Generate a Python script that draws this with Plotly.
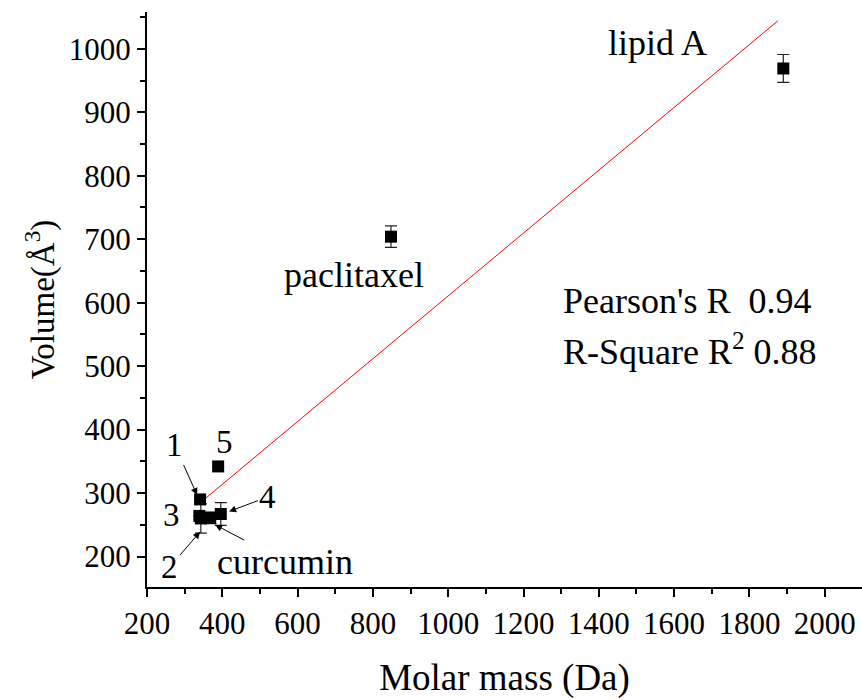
import plotly.graph_objects as go

# Molar mass (Da) vs. molecular volume (Å^3)
names = ["1", "2", "3", "curcumin", "4", "5", "paclitaxel", "lipid A"]
molar_mass = [341, 343, 339, 368, 396, 389, 848, 1890]
volume = [290, 260, 264, 261, 267, 342, 704, 969]
volume_err = [5, 23, 0, 9, 18, 0, 17, 22]

# Linear fit parameters (Origin output)
fit_slope = 0.495
fit_intercept = 115.7
fit_x = [342, 1876]
pearson_r = 0.94
r_square = 0.88

x_ticks = list(range(200, 2001, 200))
y_ticks = list(range(200, 1001, 100))

FONT = "Times New Roman, Liberation Serif, serif"

fig = go.Figure()

fit_y = [fit_slope * x + fit_intercept for x in fit_x]
fig.add_trace(go.Scatter(
    x=fit_x, y=fit_y, mode="lines",
    line=dict(color="#ff0000", width=1), hoverinfo="skip", showlegend=False,
))

fig.add_trace(go.Scatter(
    x=molar_mass, y=volume, mode="markers", hovertext=names,
    marker=dict(symbol="square", size=12, color="black", line=dict(width=0)),
    error_y=dict(type="data", array=volume_err, visible=True,
                 color="#222222", thickness=1.2, width=6),
    showlegend=False,
))

txt = dict(family=FONT, size=36, color="black")
lbl = dict(family=FONT, size=33, color="black")

annotations = [
    dict(x=1557, y=1009, text="lipid A", font=txt),
    dict(x=751, y=644, text="paclitaxel", font=txt),
    dict(x=1300, y=602, xanchor="left",
         text=f"Pearson's R  {pearson_r:.2f}", font=txt),
    dict(x=1300, y=526, xanchor="left",
         text=f"R-Square R<sup>2</sup> {r_square:.2f}", font=txt),
    dict(x=407, y=381, text="5", font=lbl),
    dict(x=266, y=266, text="3", font=lbl),
]
for a in annotations:
    a.update(xref="x", yref="y", showarrow=False)

# labels with pointer arrows: (text, font, label x, label y, head x, head y)
pointers = [
    ("1", lbl, 274, 375, 333, 297),
    ("2", lbl, 261, 184, 341, 239),
    ("4", lbl, 521, 294, 418, 271),
    ("curcumin", txt, 567, 192, 381, 250),
]
for t, f, lx, ly, hx, hy in pointers:
    annotations.append(dict(
        x=hx, y=hy, ax=lx, ay=ly, xref="x", yref="y", axref="x", ayref="y",
        text=t, font=f, showarrow=True, arrowhead=2, arrowsize=1.4, arrowwidth=1,
        arrowcolor="black", standoff=0,
    ))

axis_common = dict(
    showline=True, linecolor="black", linewidth=2, mirror=False,
    ticks="outside", ticklen=8, tickwidth=1.5, tickcolor="black",
    showgrid=False, zeroline=False,
    tickfont=dict(family=FONT, size=31, color="black"),
)

fig.update_layout(
    width=862, height=700,
    margin=dict(l=147, r=0, t=12, b=113),
    paper_bgcolor="white", plot_bgcolor="white",
    annotations=annotations,
    xaxis=dict(
        range=[200, 2099], tickvals=x_ticks,
        minor=dict(ticks="outside", ticklen=5, tickwidth=1.5, tickcolor="black", dtick=100, tick0=200),
        title=dict(text="Molar mass (Da)", font=dict(family=FONT, size=37, color="black"), standoff=24),
        **axis_common,
    ),
    yaxis=dict(
        range=[152, 1058], tickvals=y_ticks,
        minor=dict(ticks="outside", ticklen=5, tickwidth=1.5, tickcolor="black", dtick=50, tick0=150),
        title=dict(text="Volume(Å<sup>3</sup>)", font=dict(family=FONT, size=33, color="black"), standoff=4),
        **axis_common,
    ),
)

fig.write_html("out.html")
